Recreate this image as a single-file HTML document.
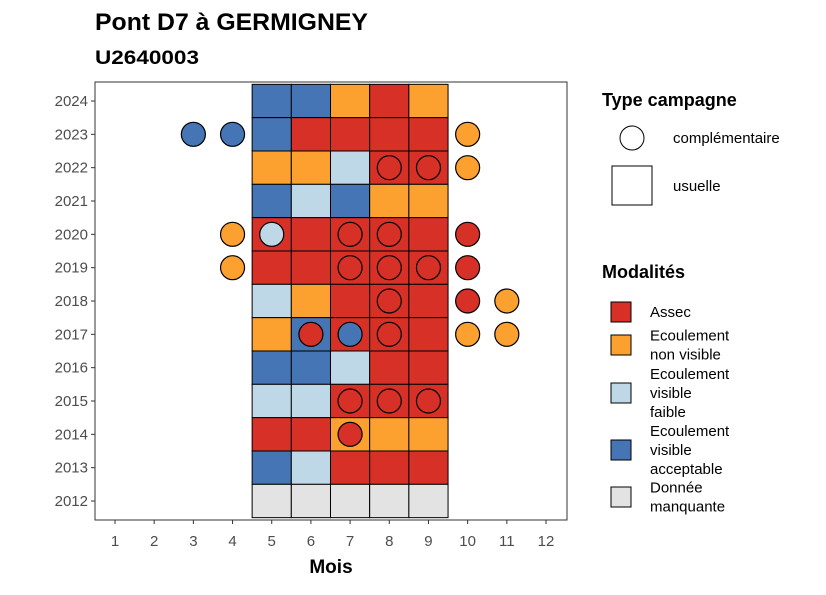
<!DOCTYPE html>
<html><head><meta charset="utf-8"><style>
body{margin:0;background:#fff;font-family:"Liberation Sans",sans-serif}
</style></head><body>
<svg id="c" width="826" height="590" xmlns="http://www.w3.org/2000/svg" font-family="Liberation Sans, sans-serif">
<text x="95" y="30" font-size="24" font-weight="bold" textLength="273" lengthAdjust="spacingAndGlyphs">Pont D7 à GERMIGNEY</text>
<text x="95" y="64" font-size="19" font-weight="bold" textLength="104" lengthAdjust="spacingAndGlyphs">U2640003</text>
<rect x="95" y="82" width="472" height="438" fill="#fff" stroke="#333" stroke-width="1"/>
<g id="tiles"></g><g id="pts"></g><g id="axes"></g>
<text x="331" y="573" font-size="19" font-weight="bold" text-anchor="middle">Mois</text>
<text x="602" y="106" font-size="18" font-weight="bold">Type campagne</text>
<circle cx="632" cy="138" r="12" fill="#fff" stroke="#000"/>
<text x="673" y="143" font-size="15">complémentaire</text>
<rect x="612" y="166" width="40" height="39" fill="#fff" stroke="#000"/>
<text x="673" y="191" font-size="15">usuelle</text>
<text x="602" y="278" font-size="18" font-weight="bold">Modalités</text>
<g id="leg"></g>
</svg>
<script>
const months=[1,2,3,4,5,6,7,8,9,10,11,12];
const years=[2012,2013,2014,2015,2016,2017,2018,2019,2020,2021,2022,2023,2024];
const colors={A:"#d73027",O:"#fca030",L:"#bfd8e8",B:"#4575b4",G:"#e3e3e3"};
const tileMonths=[5,6,7,8,9];
const tileYears=[2024,2023,2022,2021,2020,2019,2018,2017,2016,2015,2014,2013,2012];
const tileRows=["BBOAO","BAAAA","OOLAA","BLBOO","AAAAA","AAAAA","LOAAA","OBAAA","BBLAA","LLAAA","AAOOO","BLAAA","GGGGG"];
const ptYears=[2023,2023,2023,2022,2022,2022,2020,2020,2020,2020,2020,2019,2019,2019,2019,2019,2018,2018,2018,2017,2017,2017,2017,2017,2015,2015,2015,2014];
const ptMonths=[3,4,10,8,9,10,4,5,7,8,10,4,7,8,9,10,8,10,11,6,7,8,10,11,7,8,9,7];
const ptMods=["B","B","O","A","A","O","O","L","A","A","A","O","A","A","A","A","A","A","O","A","B","A","O","O","A","A","A","A"];
const xs=m=>115+(m-1)*(546-115)/11;
const ys=y=>501-(y-2012)*(400/12);
const NS="http://www.w3.org/2000/svg";
function mk(t,a,p){const e=document.createElementNS(NS,t);for(const k in a)e.setAttribute(k,a[k]);p.appendChild(e);return e;}
const T=document.getElementById('tiles');
tileYears.forEach((y,i)=>tileMonths.forEach((m,j)=>{
 const r=mk('rect',{x:xs(m)-19.6,y:ys(y)-16.67,width:39.2,height:33.33,fill:colors[tileRows[i][j]],stroke:"#000","stroke-width":1},T);
 
 
}));
const P=document.getElementById('pts');
ptYears.forEach((y,i)=>{
 const c=mk('circle',{cx:xs(ptMonths[i]),cy:ys(y),r:12,fill:colors[ptMods[i]],stroke:"#000","stroke-width":1.2},P);
 
 
});
const A=document.getElementById('axes');
months.forEach(m=>{
 mk('line',{x1:xs(m),x2:xs(m),y1:520,y2:524,stroke:"#333"},A);
 const t=mk('text',{x:xs(m),y:546,"font-size":15,fill:"#4d4d4d","text-anchor":"middle"},A);t.textContent=m;
 
 
});
years.forEach(y=>{
 mk('line',{x1:91,x2:95,y1:ys(y),y2:ys(y),stroke:"#333"},A);
 const t=mk('text',{x:88,y:ys(y)+5,"font-size":15,fill:"#4d4d4d","text-anchor":"end"},A);t.textContent=y;
 
 
});
const legItems=[["A",["Assec"],312],["O",["Ecoulement","non visible"],345],["L",["Ecoulement","visible","faible"],393],["B",["Ecoulement","visible","acceptable"],450],["G",["Donnée","manquante"],497]];
const L=document.getElementById('leg');
legItems.forEach(([k,lines,cy])=>{
 const r=mk('rect',{x:611,y:cy-10,width:20,height:20,fill:colors[k],stroke:"#000"},L);
 
 
 const y0=cy+5-(lines.length-1)*19/2;
 lines.forEach((s,i)=>{const t=mk('text',{x:650,y:y0+i*19,"font-size":15},L);t.textContent=s;
 
 });
});
</script>
</body></html>
